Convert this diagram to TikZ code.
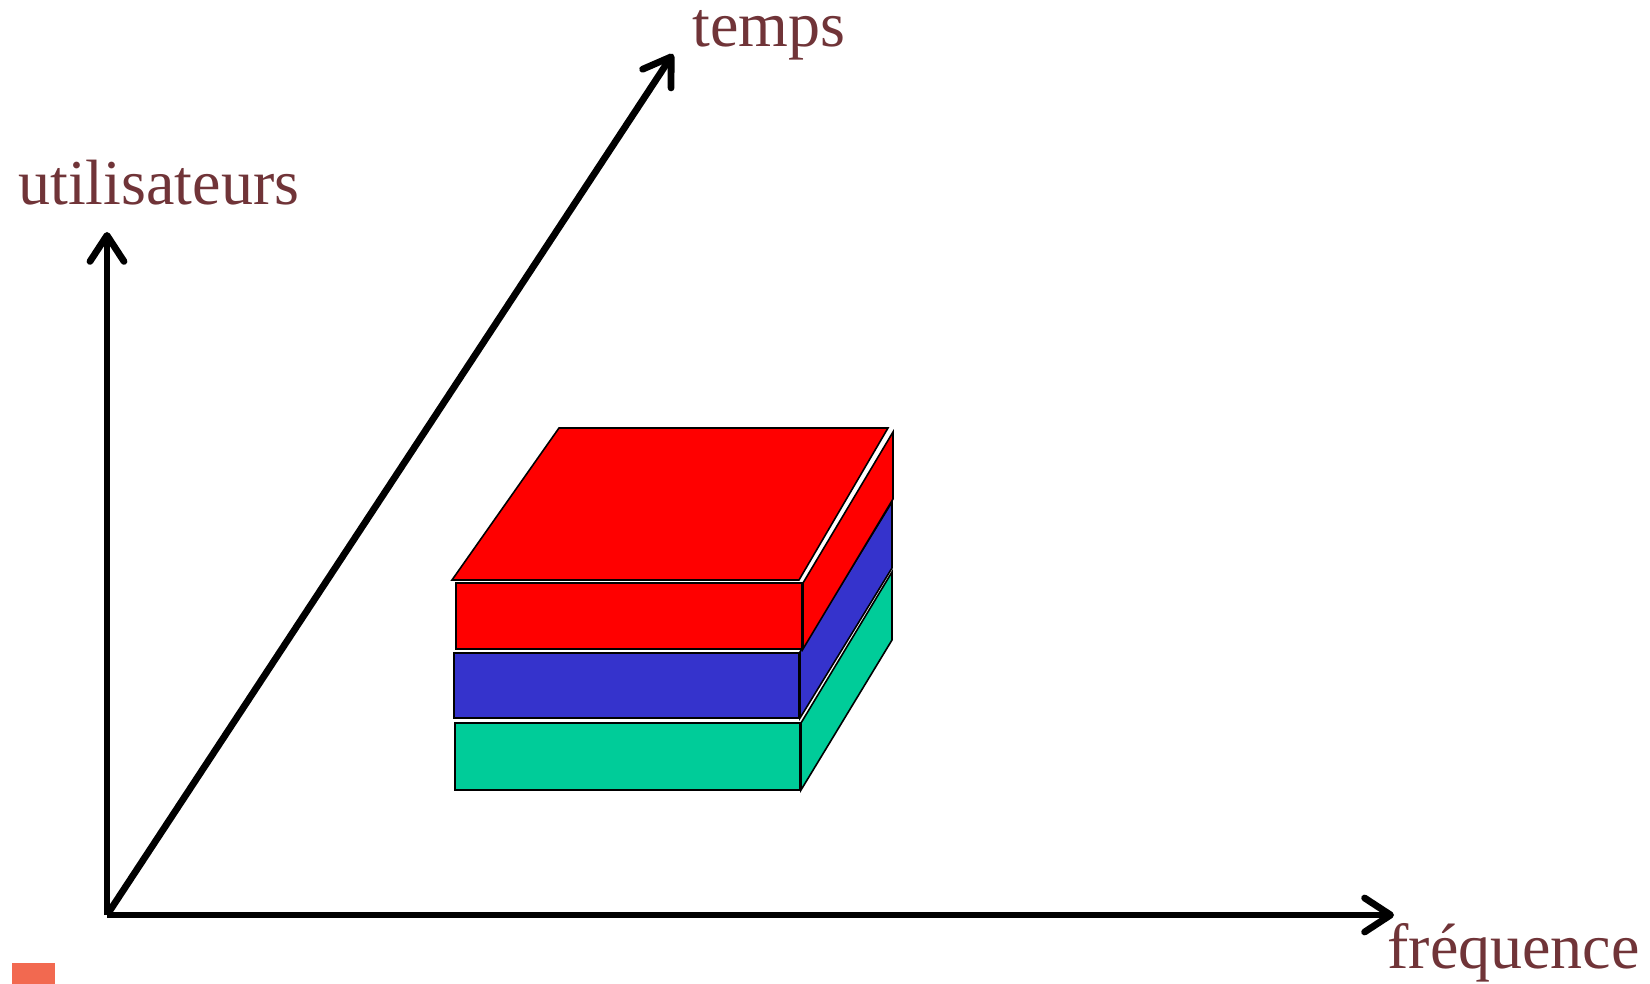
\documentclass[tikz,border=0pt]{standalone}
\usepackage{fontspec}
\setmainfont{Liberation Serif}
\usetikzlibrary{arrows.meta}
\definecolor{lab}{RGB}{112,52,56}
\definecolor{rd}{RGB}{255,0,0}
\definecolor{bl}{RGB}{53,51,204}
\definecolor{gr}{RGB}{0,204,153}
\definecolor{og}{RGB}{242,105,80}
\tikzset{ax/.style={line width=3.4pt,-{Straight Barb[length=13pt,width=17pt,round]}},
 lbl/.style={inner sep=0pt,anchor=base west,text=lab,font=\fontsize{32}{38}\selectfont},
 face/.style={draw=black,line width=.8pt,line join=miter}}
\begin{document}
\begin{tikzpicture}[x=0.5pt,y=-0.5pt]
\useasboundingbox (0,0) rectangle (1650,984);
\coordinate (o) at (107,915);
\coordinate (u) at (107,232);
\coordinate (f) at (1394,915);
\coordinate (t) at (673,54);
\draw[ax] (o) -- (u);
\draw[ax] (o) -- (f);
\draw[ax] (o) -- (t);
\node[lbl] (ul) at (18,205) {utilisateurs};
\node[lbl] (tl) at (692,47) {temps};
\node[lbl] (fl) at (1387,968) {fréquence};
% green block
\draw[face,fill=gr] (455,723) rectangle (800,790);
\draw[face,fill=gr] (801,723) -- (892,572) -- (892,640) -- (801,790) -- cycle;
% blue block
\draw[face,fill=bl] (454,653) rectangle (799,718);
\draw[face,fill=bl] (800,652) -- (892,502) -- (892,568) -- (800,718) -- cycle;
% red block
\draw[face,fill=rd] (456,583) rectangle (802,649);
\draw[face,fill=rd] (803,583) -- (893,432) -- (893,499) -- (803,649) -- cycle;
\draw[face,fill=rd] (559,428) -- (888,428) -- (799,580) -- (452,580) -- cycle;
\fill[og] (12,963) rectangle (55,984);
\end{tikzpicture}
\end{document}
